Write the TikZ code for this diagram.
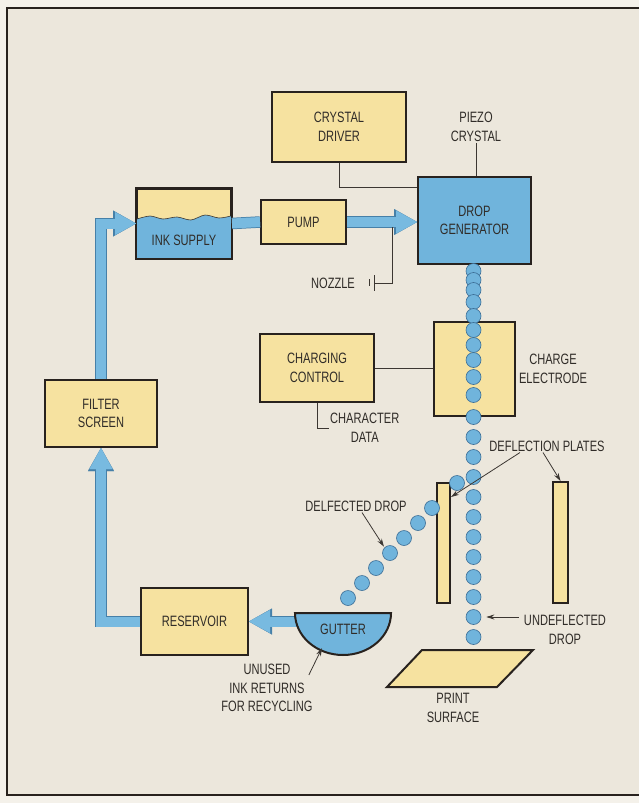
\documentclass[tikz,border=0pt]{standalone}
\usepackage{fontspec}
\setmainfont{Liberation Sans}[FakeStretch=0.74]
\usepackage{tikz}
\usetikzlibrary{arrows.meta,positioning,calc}
\usepackage{xcolor}
\definecolor{paper}{RGB}{244,241,234}
\definecolor{beige}{RGB}{236,231,220}
\definecolor{padyellow}{RGB}{246,226,160}
\definecolor{padblue}{RGB}{112,180,220}
\definecolor{pipeblue}{RGB}{120,186,224}
\definecolor{pipeedge}{RGB}{70,128,168}
\definecolor{dropedge}{RGB}{60,110,150}
\definecolor{edgecol}{RGB}{40,34,30}
\definecolor{wirecol}{RGB}{60,55,50}
\definecolor{labelcol}{RGB}{48,44,40}

\tikzset{
  box/.style={draw=edgecol, line width=2pt, fill=padyellow, align=center, inner sep=0pt},
  bluebox/.style={box, fill=padblue},
  lbl/.style={align=center, inner sep=1pt},
  wire/.style={draw=wirecol, line width=0.8pt},
  ptr/.style={draw=wirecol, line width=0.8pt, -{Stealth[length=8pt,width=5pt]}},
  drop/.style={circle, draw=dropedge, line width=0.6pt, fill=padblue, minimum size=15pt, inner sep=0pt},
  pipeflat/.style={line width=10pt, draw=pipeblue,
    preaction={draw=pipeedge, line width=11.5pt}},
  pipe/.style={line width=10pt, draw=pipeblue, line join=miter,
    -{Triangle[length=21pt,width=23pt,line width=0.01pt]},
    preaction={draw=pipeedge, line width=11.5pt, line join=miter,
      -{Triangle[length=23pt,width=26pt,line width=0.01pt]}}}
}

\begin{document}
\begin{tikzpicture}[x=1pt, y=-1pt, font=\fontsize{15}{18.5}\selectfont, text=labelcol]
    \useasboundingbox (0,0) rectangle (639,803);
    % Page and frame
    \fill[paper] (0,0) rectangle (639,803);
    \fill[beige] (7,8) rectangle (639,795);
    \draw[edgecol, line width=1.5pt] (639,8) -- (7,8) -- (7,795) -- (639,795);

    % Blocks
    \node[box, minimum width=134pt, minimum height=70pt] (driver) at (339,127) {CRYSTAL\\DRIVER};
    \node[bluebox, minimum width=113pt, minimum height=87pt] (gen) at (474.5,220.5) {DROP\\GENERATOR};
    \node[box, minimum width=85pt, minimum height=44pt] (pump) at (303.5,222) {PUMP};
    \node[box, minimum width=94pt, minimum height=69pt] (ink) at (184,223.5) {};
    \node[box, minimum width=112pt, minimum height=67pt] (filter) at (101,413.5) {FILTER\\SCREEN};
    \node[box, minimum width=107pt, minimum height=67pt] (res) at (194.5,621.5) {RESERVOIR};
    \node[box, minimum width=114pt, minimum height=68pt] (ctrl) at (317,368) {CHARGING\\CONTROL};
    \node[box, minimum width=81pt, minimum height=94pt] (elec) at (474.5,369) {};
    \node[box, minimum width=13pt, minimum height=120pt] (plate1) at (443.5,543) {};
    \node[box, minimum width=15pt, minimum height=121pt] (plate2) at (560.5,542.5) {};

    % Ink level in the supply tank
    \fill[padblue] plot[smooth] coordinates {(137,219) (150,216) (163,219) (177,217) (191,220) (205,215) (219,218) (231,216)}
        -- (231,258) -- (137,258) -- cycle;
    \draw[wirecol, line width=0.6pt] plot[smooth] coordinates {(137,219) (150,216) (163,219) (177,217) (191,220) (205,215) (219,218) (231,216)};
    \draw[edgecol, line width=2pt] (ink.south west) rectangle (ink.north east);
    \node (inklbl) at (184,240) {INK SUPPLY};

    % Ink pipes
    \draw[pipeflat] (ink.east) -- (pump.west);
    \draw[pipe] (pump.east) -- (pump.east -| gen.west);
    \draw[pipe] (filter.north) |- (ink.west);
    \draw[pipe] (res.west) -| (filter.south);
    \coordinate (gut) at (343,613);
    \draw[pipe] (res.east -| gut) -- (res.east);

    % Gutter
    \draw[edgecol, line width=2pt, fill=padblue] (295,613) arc[start angle=180, end angle=360, x radius=48pt, y radius=42pt] -- cycle;
    \node (gutter) at (343,629) {GUTTER};

    % Print surface
    \draw[edgecol, line width=2pt, fill=padyellow] (422,650) -- (533,650) -- (497,687) -- (387,687) -- cycle;
    \node[lbl] (plbl) at (453,708) {PRINT\\SURFACE};

    % Signal lines
    \draw[wire] (driver.south) |- ([yshift=-11pt]gen.north west);
    \node[lbl] (piezo) at (476,127) {PIEZO\\CRYSTAL};
    \draw[wire] (piezo.south) -- (piezo.south |- gen.north);
    \draw[wire] (ctrl.east) -- (ctrl.east -| elec.west);
    \node[lbl, anchor=west] (data) at (329,428) {CHARACTER\\DATA};
    \draw[wire] (ctrl.south) |- (data.west);
    \node[lbl] (elbl) at (553,369) {CHARGE\\ELECTRODE};

    % Nozzle
    \node[lbl] (nozzle) at (333,283) {NOZZLE};
    \coordinate (nzbar) at (374,283);
    \draw[wire] (nzbar) -| ([xshift=45pt, yshift=-5pt]pump.east);
    \draw[wire] ([yshift=8pt]nzbar) -- ([yshift=-8pt]nzbar);
    \draw[wire] ([shift={(-5pt,4pt)}]nzbar) -- ([shift={(-5pt,-3pt)}]nzbar);

    % Drop stream
    \foreach \y [count=\i] in {271,280,290,302,316,330,345,360,377,395,417,437,457,477,497,517,537,557,577,597,617,637}
        \node[drop] (c\i) at (473.5,\y) {};
    \node[drop] (dd0) at (457,483) {};
    \foreach \k in {1,...,7}
        \node[drop] (dd\k) at ({432-14*(\k-1)},{508+15*(\k-1)}) {};

    % Callouts
    \node[lbl] (deflbl) at (547,446) {DEFLECTION PLATES};
    \draw[ptr] ([xshift=-27pt]deflbl.south) -- ([yshift=-15pt]plate1.north east);
    \draw[ptr] ([xshift=-4pt]deflbl.south) -- (plate2.north);
    \node[lbl] (dlbl) at (356,506) {DELFECTED DROP};
    \draw[ptr, shorten >=1pt] ([xshift=6pt]dlbl.south) -- (dd4.north west);
    \node[lbl] (ulbl) at (565,630) {UNDEFLECTED\\DROP};
    \draw[ptr, shorten >=5pt] ([xshift=-4pt]ulbl.west |- c21) -- (c21.east);
    \node[lbl] (unused) at (267,688) {UNUSED\\INK RETURNS\\FOR RECYCLING};
    \coordinate (gutin) at (322,648);
    \draw[ptr] ([shift={(-5pt,-12pt)}]unused.north east) -- (gutin);
\end{tikzpicture}
\end{document}
